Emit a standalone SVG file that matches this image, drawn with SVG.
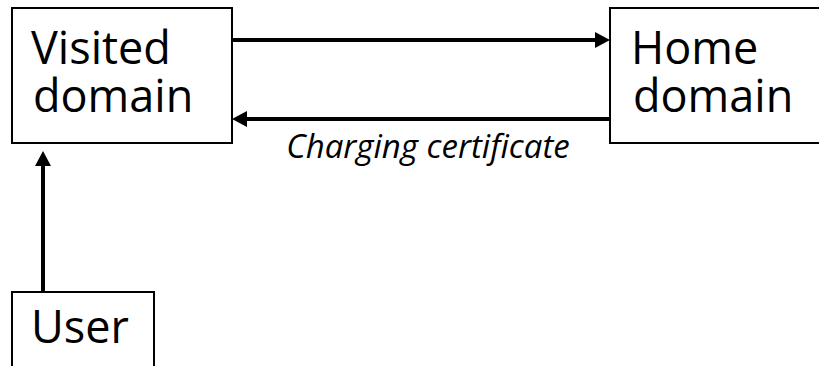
<svg xmlns="http://www.w3.org/2000/svg" width="819" height="366" viewBox="0 0 819 366">
  <style>
    .box { fill: #ffffff; stroke: #000000; stroke-width: 2; }
    .label { font-family: "Open Sans", "Noto Sans", sans-serif; font-size: 45px; fill: #000000; }
    .edge { stroke: #000000; stroke-width: 4; fill: none; }
    .edge-label { font-family: "Open Sans", "Noto Sans", sans-serif; font-size: 33px; font-style: italic; fill: #000000; }
  </style>
  <defs>
    <marker id="head" markerUnits="userSpaceOnUse" markerWidth="17" markerHeight="17" refX="1" refY="8" orient="auto">
      <path d="M0,0 L15,8 L0,16 z" fill="#000000"/>
    </marker>
  </defs>
  <rect width="819" height="366" fill="#ffffff"/>

  <g id="visited-domain">
    <rect class="box" x="12" y="8" width="220" height="135"/>
    <text class="label" x="31" y="64">Visited</text>
    <text class="label" x="33" y="112">domain</text>
  </g>

  <g id="home-domain">
    <rect class="box" x="610" y="8" width="260" height="135"/>
    <text class="label" x="631" y="64">Home</text>
    <text class="label" x="633" y="112">domain</text>
  </g>

  <g id="user">
    <rect class="box" x="12" y="292" width="142" height="120"/>
    <text class="label" x="31" y="343">User</text>
  </g>

  <g id="connectors">
    <line class="edge" x1="232" y1="40" x2="596" y2="40" marker-end="url(#head)"/>
    <line class="edge" x1="610" y1="119" x2="246" y2="119" marker-end="url(#head)"/>
    <line class="edge" x1="43" y1="292" x2="43" y2="165" marker-end="url(#head)"/>
    <text class="edge-label" x="428" y="158" text-anchor="middle">Charging certificate</text>
  </g>
</svg>
